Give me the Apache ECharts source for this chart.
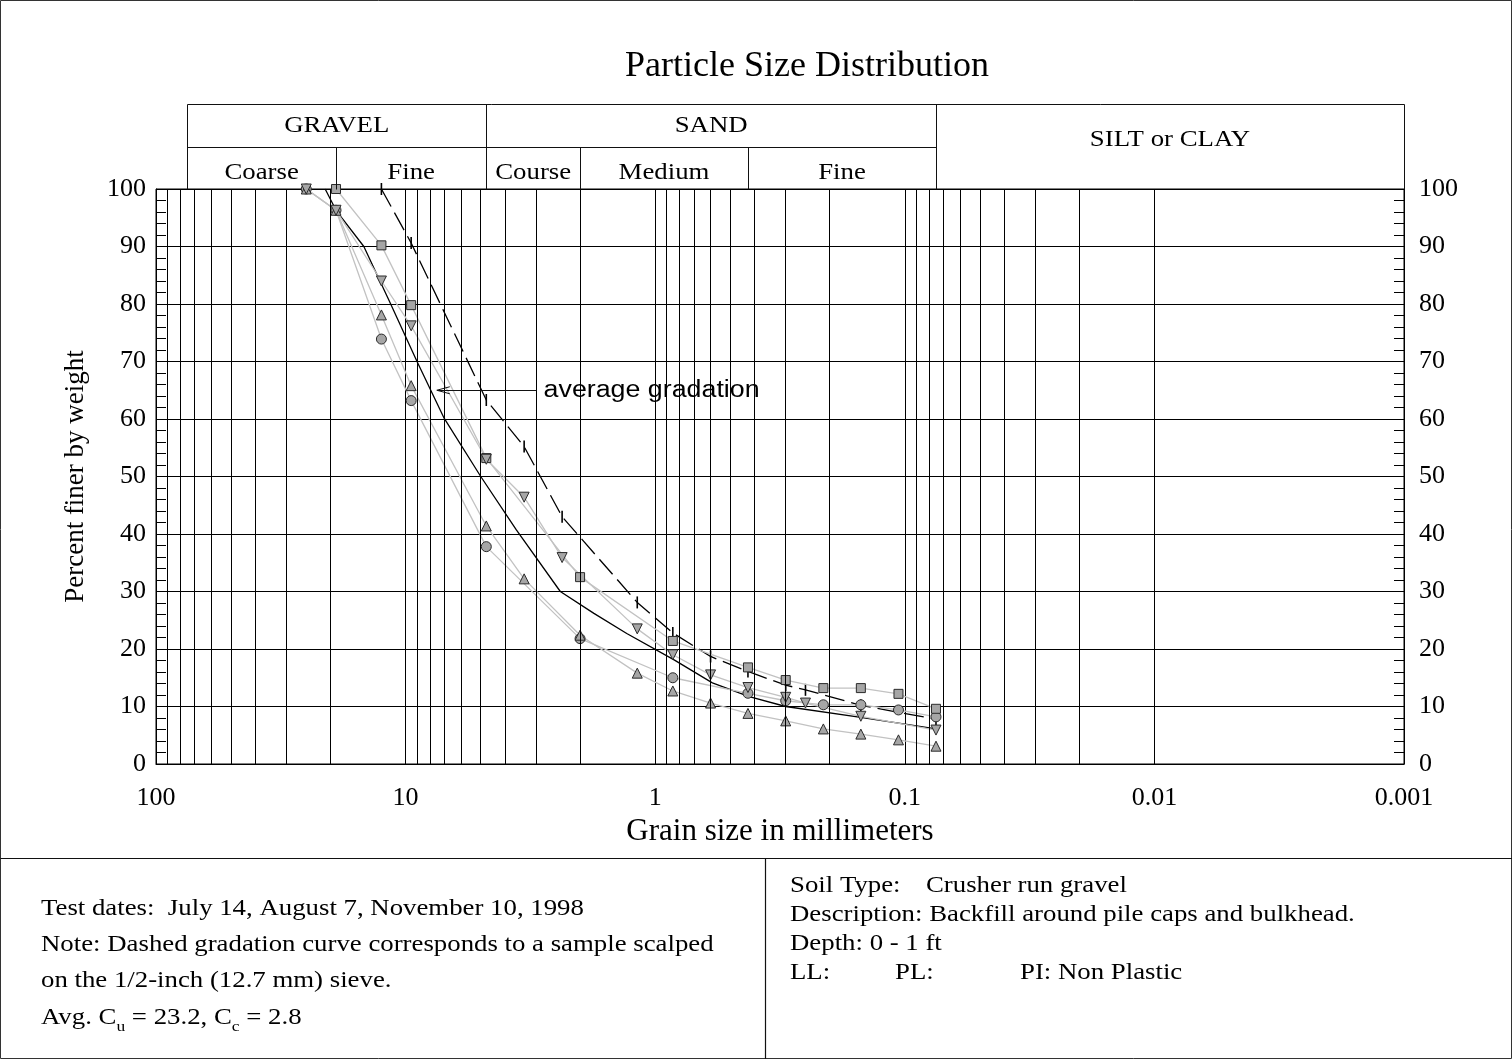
<!DOCTYPE html>
<html><head><meta charset="utf-8">
<script src="https://cdn.jsdelivr.net/npm/echarts@6/dist/echarts.min.js"></script>
<style>html,body{margin:0;padding:0;background:#fff}#c{width:1512px;height:1059px}</style>
</head><body><div id="c"></div>
<script>
// ---------- data (grain size mm, percent finer) ----------
const circleX   = [25, 19, 12.5, 9.5, 4.75, 2.0, 0.85, 0.425, 0.3, 0.212, 0.15, 0.106, 0.075];
const circleY   = [100, 96.3, 73.9, 63.2, 37.8, 21.8, 15.0, 12.3, 11.0, 10.3, 10.3, 9.4, 8.2];
const squareX   = [19, 12.5, 9.5, 4.75, 2.0, 0.85, 0.425, 0.3, 0.212, 0.15, 0.106, 0.075];
const squareY   = [100, 90.2, 79.8, 53.2, 32.5, 21.4, 16.8, 14.6, 13.2, 13.2, 12.2, 9.6];
const triUpX    = [25, 19, 12.5, 9.5, 4.75, 3.35, 2.0, 1.18, 0.85, 0.6, 0.425, 0.3, 0.212, 0.15, 0.106, 0.075];
const triUpY    = [100, 96.3, 78.1, 65.8, 41.4, 32.2, 22.4, 15.8, 12.7, 10.6, 8.8, 7.5, 6.1, 5.2, 4.2, 3.1];
const triDownX  = [25, 19, 12.5, 9.5, 4.75, 3.35, 2.36, 1.18, 0.85, 0.6, 0.425, 0.3, 0.25, 0.15, 0.075];
const triDownY  = [100, 96.3, 84.0, 76.2, 53.0, 46.4, 35.9, 23.5, 19.0, 15.5, 13.3, 11.6, 10.6, 8.3, 5.9];
const scalpedX  = [12.5, 9.5, 4.75, 3.35, 2.36, 1.18, 0.85, 0.6, 0.425, 0.3, 0.25, 0.15, 0.075];
const scalpedY  = [100, 90.6, 63.3, 55.2, 43.0, 28.1, 22.8, 18.7, 16.1, 13.7, 12.9, 10.2, 7.8];
const averageX  = [21, 19, 14.7, 11.5, 9.0, 7.0, 5.0, 3.6, 2.4, 1.76, 1.3, 0.84, 0.59, 0.42, 0.3, 0.15, 0.075];
const averageY  = [100, 96.3, 90, 80.1, 70, 60.1, 50, 40.7, 30, 26.2, 22.7, 18.1, 14.1, 11.7, 10.0, 8.1, 6.1];

const xTickValues = [0.001, 0.01, 0.1, 1, 10, 100];
const xTickLabels = ['0.001', '0.01', '0.1', '1', '10', '100'];

// soil classification header (USCS boundaries, mm)
const mainZones  = ['GRAVEL', 'SAND', 'SILT or CLAY'];
const mainBounds = [75, 4.75, 0.075, 0.001];
const subZones   = ['Coarse', 'Fine', 'Course', 'Medium', 'Fine'];
const subBounds  = [75, 19, 4.75, 2, 0.425, 0.075];

// annotation
const arrowY = 65, arrowTipX = 7.5, arrowTailX = 3.0, arrowLabelX = 2.8;
const arrowLabel = 'average gradation';

const leftNotes  = ['Test dates:  July 14, August 7, November 10, 1998',
                    'Note: Dashed gradation curve corresponds to a sample scalped',
                    'on the 1/2-inch (12.7 mm) sieve.'];
const rightNotes = ['Description: Backfill around pile caps and bulkhead.', 'Depth: 0 - 1 ft'];

// ---------- build ----------
const zip = (xs, ys) => xs.map((x, i) => [x, ys[i]]);
const minorX = [];
for (let k = -3; k <= 1; k++) for (let m = 2; m <= 9; m++) minorX.push(+(m * Math.pow(10, k)).toPrecision(3));

const SERIF = 'Liberation Serif';
const grayLine = {color: '#c2c2c2', width: 1.3};
const mk = {color: '#a6a6a6', borderColor: '#2b2b2b', borderWidth: 1};

const option = {
  animation: false,
  backgroundColor: '#fff',
  title: {text: 'Particle Size Distribution', left: 620, top: 44,
    textStyle: {fontFamily: SERIF, fontSize: 36, fontWeight: 'normal', color: '#000'}},
  grid: {left: 156, right: 108, top: 189, bottom: 295, show: true, borderColor: '#000', borderWidth: 1},
  xAxis: {
    type: 'log', logBase: 10, min: 0.001, max: 100, inverse: true,
    name: 'Grain size in millimeters', nameLocation: 'middle', nameGap: 52,
    nameTextStyle: {fontFamily: SERIF, fontSize: 31, color: '#000'},
    axisLine: {show: true, lineStyle: {color: '#000', width: 1}},
    axisTick: {show: true, inside: true, length: 6, lineStyle: {color: '#000'}},
    axisLabel: {fontFamily: SERIF, fontSize: 26, color: '#000', margin: 21,
      formatter: v => { const i = xTickValues.findIndex(t => Math.abs(Math.log10(t) - Math.log10(v)) < 1e-6); return i >= 0 ? xTickLabels[i] : ''; }},
    splitLine: {show: true, lineStyle: {color: '#000', width: 1}}
  },
  yAxis: [
    {type: 'value', min: 0, max: 100, interval: 10, position: 'left',
     name: 'Percent finer by weight', nameLocation: 'middle', nameGap: 67,
     nameTextStyle: {fontFamily: SERIF, fontSize: 27, color: '#000'},
     axisLine: {show: true, lineStyle: {color: '#000'}},
     axisTick: {show: true, inside: true, length: 10, lineStyle: {color: '#000'}},
     minorTick: {show: true, splitNumber: 5, length: 10, lineStyle: {color: '#000'}},
     axisLabel: {fontFamily: SERIF, fontSize: 26, color: '#000', margin: 10},
     splitLine: {show: true, lineStyle: {color: '#000', width: 1}}},
    {type: 'value', min: 0, max: 100, interval: 10, position: 'right',
     axisLine: {show: true, lineStyle: {color: '#000'}},
     axisTick: {show: true, inside: true, length: 10, lineStyle: {color: '#000'}},
     minorTick: {show: true, splitNumber: 5, length: 10, lineStyle: {color: '#000'}},
     axisLabel: {fontFamily: SERIF, fontSize: 26, color: '#000', margin: 15},
     splitLine: {show: false}}
  ],
  series: [
    {name: 'grid-minor', type: 'line', data: [], silent: true,
     markLine: {silent: true, symbol: ['none', 'none'], label: {show: false},
       lineStyle: {color: '#000', width: 1, type: 'solid'}, emphasis: {disabled: true},
       data: minorX.map(v => ({xAxis: v}))}},
    {name: 'average', type: 'line', data: zip(averageX, averageY), symbol: 'none', z: 3,
     lineStyle: {color: '#000', width: 1.3}},
    {name: 'scalped', type: 'line', data: zip(scalpedX, scalpedY), z: 3,
     symbol: 'rect', symbolSize: [1.6, 12], itemStyle: {color: '#000'},
     lineStyle: {color: '#000', width: 1.3, type: [20, 7]}},
    {name: 'circle', type: 'line', data: zip(circleX, circleY), z: 4, symbol: 'circle', symbolSize: 10,
     lineStyle: grayLine, itemStyle: mk},
    {name: 'square', type: 'line', data: zip(squareX, squareY), z: 4, symbol: 'rect', symbolSize: 9,
     lineStyle: grayLine, itemStyle: mk},
    {name: 'triUp', type: 'line', data: zip(triUpX, triUpY), z: 4, symbol: 'triangle', symbolSize: 10,
     lineStyle: grayLine, itemStyle: mk},
    {name: 'triDown', type: 'line', data: zip(triDownX, triDownY), z: 4, symbol: 'triangle', symbolRotate: 180, symbolSize: 10,
     lineStyle: grayLine, itemStyle: mk}
  ]
};

const chart = echarts.init(document.getElementById('c'));
chart.setOption(option);

const px = v => chart.convertToPixel({xAxisIndex: 0}, v);
const py = v => chart.convertToPixel({yAxisIndex: 0}, v);
const r = v => Math.round(v) + 0.5;
const line = (x1, y1, x2, y2, w) => ({type: 'line', silent: true, z: 50,
  shape: {x1: r(x1), y1: r(y1), x2: r(x2), y2: r(y2)}, style: {stroke: '#111', lineWidth: w || 1}});
const SX = 1.165;
const txt = (text, x, y, align, size, fam) => ({type: 'text', x: x, y: y, scaleX: SX, silent: true, z: 50,
  style: {text: text, fill: '#000', align: align, verticalAlign: 'middle',
    font: (size || 23) + 'px "' + (fam || SERIF) + '"'}});

const g = [];
const gTop = py(100), hTop = 104, hMid = 147;
// outer frame and footer dividers
g.push({type: 'rect', silent: true, z: 50, shape: {x: 0.5, y: 0.5, width: 1511, height: 1058}, style: {fill: null, stroke: '#333', lineWidth: 1}});
g.push(line(0, 858, 1512, 858, 1.2));
g.push(line(765, 858, 765, 1059, 1.2));
// header table
g.push(line(px(mainBounds[0]), hTop, px(mainBounds[3]), hTop));
g.push(line(px(subBounds[0]), hMid, px(subBounds[5]), hMid));
mainBounds.forEach(b => g.push(line(px(b), hTop, px(b), gTop)));
subBounds.slice(1, 5).forEach(b => { if (mainBounds.indexOf(b) < 0) g.push(line(px(b), hMid, px(b), gTop)); });
mainZones.forEach((t, i) => {
  const cx = (px(mainBounds[i]) + px(mainBounds[i + 1])) / 2;
  g.push(txt(t, cx, i === 2 ? 140 : 126, 'center'));
});
subZones.forEach((t, i) => {
  const cx = (px(subBounds[i]) + px(subBounds[i + 1])) / 2;
  g.push(txt(t, cx, 173, 'center'));
});
// annotation arrow
const tipX = px(arrowTipX), tailX = px(arrowTailX), ay = py(arrowY);
g.push(line(tipX, ay, tailX, ay));
g.push({type: 'polyline', silent: true, z: 50, shape: {points: [[tipX + 13, ay - 3.5], [tipX, ay], [tipX + 13, ay + 3.5]]},
  style: {stroke: '#111', lineWidth: 1, fill: null}});
g.push(txt(arrowLabel, px(arrowLabelX), ay, 'left', 23, 'Liberation Sans'));
// footer notes
const leftY = [909, 945, 981];
leftNotes.forEach((t, i) => g.push(txt(t, 41, leftY[i], 'left')));
g.push({type: 'text', x: 41, y: 1018, scaleX: SX, silent: true, z: 50,
  style: {text: '{a|Avg. C}{s|u}{a| = 23.2, C}{s|c}{a| = 2.8}', verticalAlign: 'middle', align: 'left', fill: '#000',
    rich: {a: {fontFamily: SERIF, fontSize: 23, lineHeight: 34, verticalAlign: 'middle'},
           s: {fontFamily: SERIF, fontSize: 15, lineHeight: 16, verticalAlign: 'bottom'}}}});
g.push(txt('Soil Type:', 790, 886, 'left'));
g.push(txt('Crusher run gravel', 926, 886, 'left'));
g.push(txt(rightNotes[0], 790, 915, 'left'));
g.push(txt(rightNotes[1], 790, 944, 'left'));
g.push(txt('LL:', 790, 973, 'left'));
g.push(txt('PL:', 895, 973, 'left'));
g.push(txt('PI: Non Plastic', 1020, 973, 'left'));

chart.setOption({graphic: {elements: g}});
</script>
</body></html>
